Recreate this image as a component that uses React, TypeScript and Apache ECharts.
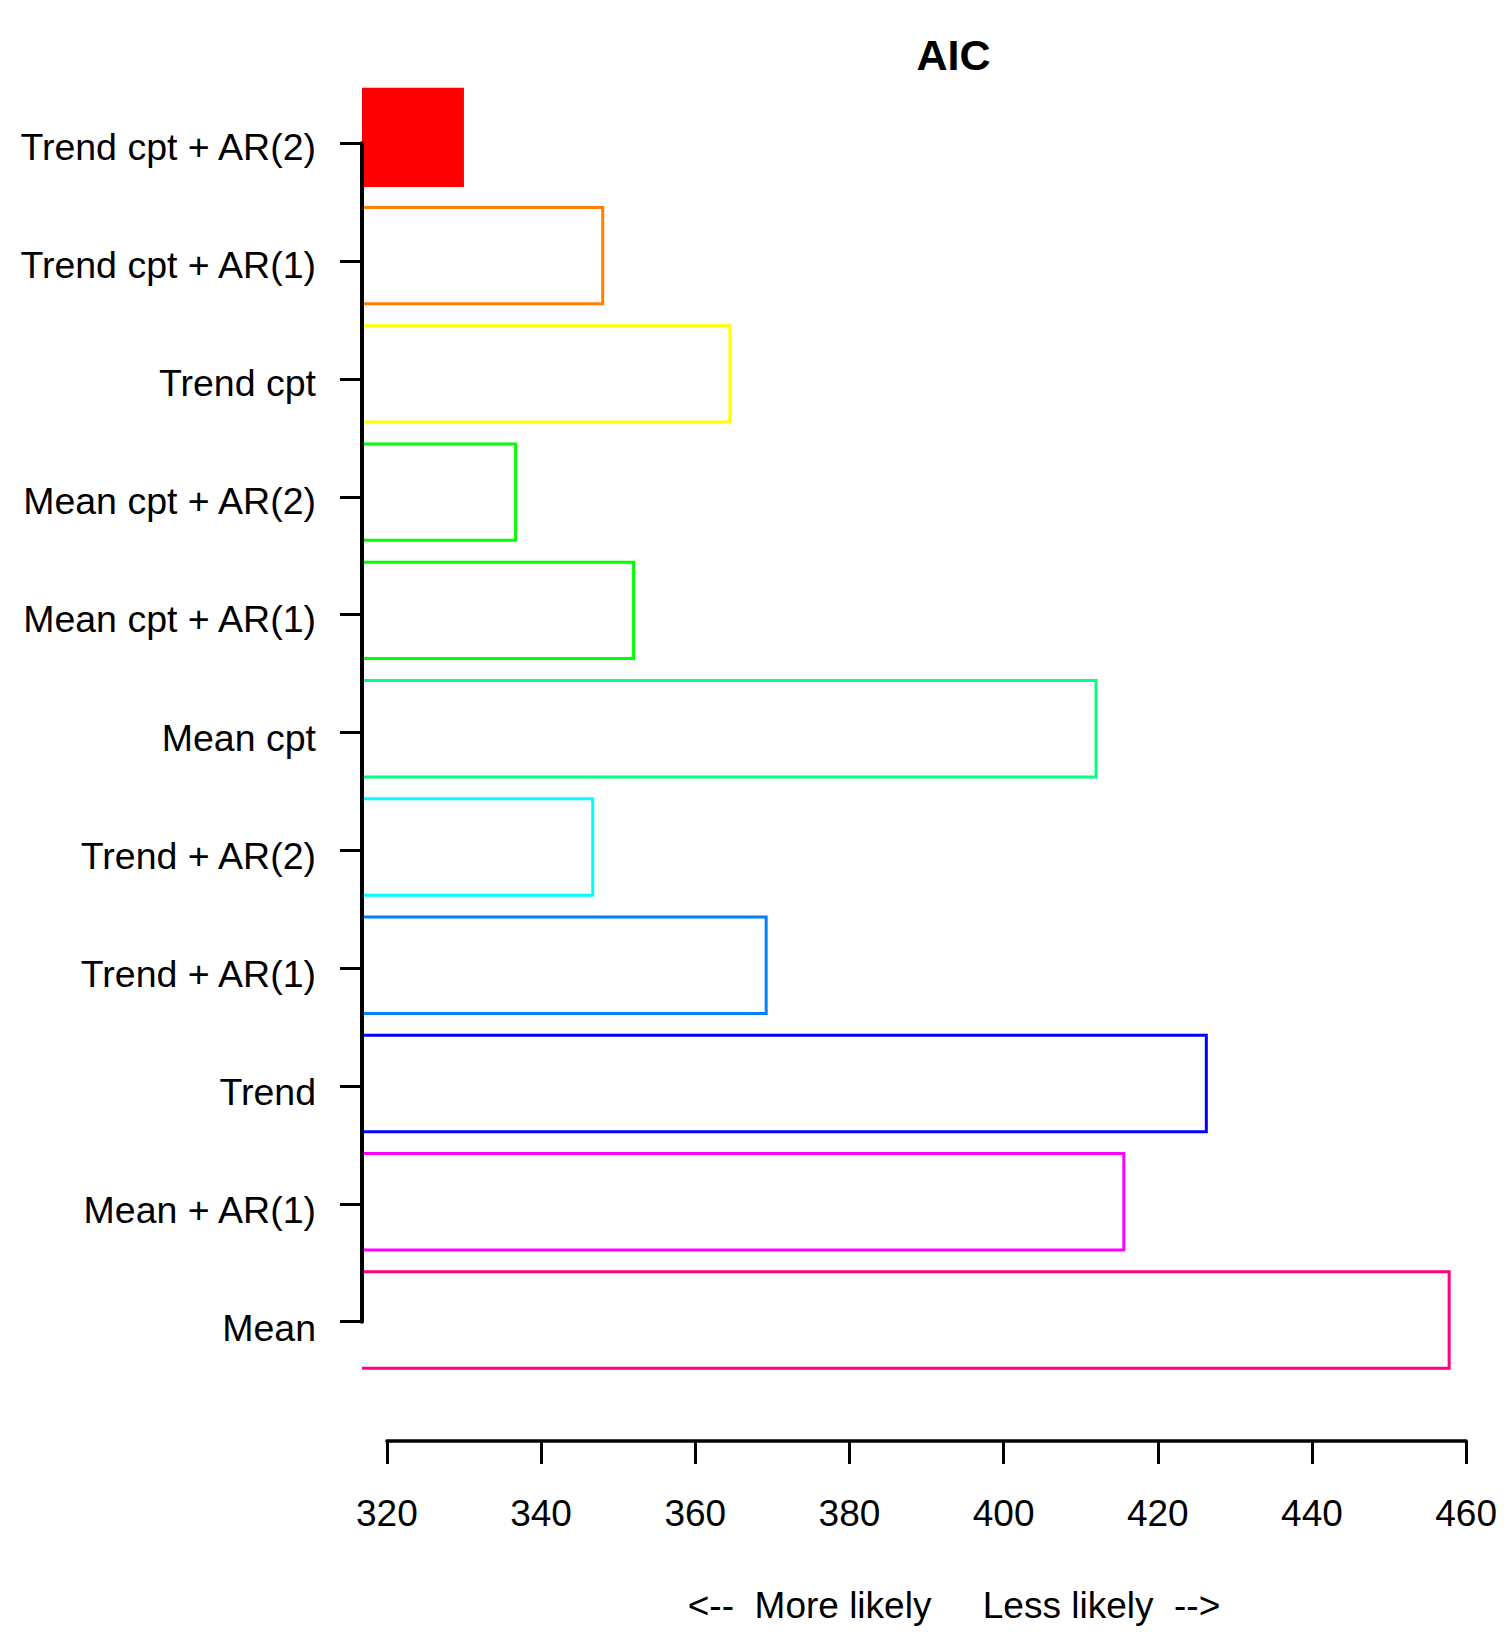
import React, { useEffect, useRef } from "react";
import * as echarts from "echarts";

// ---- data ----
const modelLabels: string[] = [
  "Trend cpt + AR(2)",
  "Trend cpt + AR(1)",
  "Trend cpt",
  "Mean cpt + AR(2)",
  "Mean cpt + AR(1)",
  "Mean cpt",
  "Trend + AR(2)",
  "Trend + AR(1)",
  "Trend",
  "Mean + AR(1)",
  "Mean",
];
const aicValues: number[] = [329.8, 348.0, 364.5, 336.7, 352.0, 412.0, 346.7, 369.2, 426.3, 415.6, 457.8];
const barColors: string[] = [
  "#FF0000", "#FF8000", "#FFFF00", "#00FF00", "#00FF00", "#00FF80",
  "#00FFFF", "#0080FF", "#0000FF", "#FF00FF", "#FF0080",
];
const xTickMin = 320;
const xTickMax = 460;
const xTickStep = 20;
const titleText = "AIC";
const xAxisNote = "<--  More likely     Less likely  -->";

const FONT = "'Liberation Sans', Arial, Helvetica, sans-serif";

export default function App() {
  const ref = useRef<HTMLDivElement>(null);
  useEffect(() => {
    document.body.style.margin = "0";
    const chart = echarts.init(ref.current as HTMLDivElement, null, { renderer: "svg" });
    const minAic = Math.min(...aicValues);

    // pixel geometry
    const xPx320 = 386.9;
    const xPx460 = 1466.1;
    const pxPerUnit = (xPx460 - xPx320) / (xTickMax - xTickMin);
    const plotLeft = 362;
    const barAxisMin = xTickMin - (xPx320 - plotLeft) / pxPerUnit;

    const option: any = {
      animation: false,
      backgroundColor: "#ffffff",
      title: {
        text: titleText,
        left: 948.5,
        top: 28,
        textAlign: "center",
        textStyle: { fontFamily: FONT, fontSize: 43, fontWeight: "bold", color: "#000" },
      },
      grid: [
        { left: plotLeft, top: 78.2, width: xPx460 - plotLeft, height: 1301, containLabel: false },
        { left: plotLeft, top: 143.3, width: 10, height: 1178.4, containLabel: false },
        { left: xPx320, top: 1300, width: xPx460 - xPx320, height: 141, containLabel: false },
        { left: plotLeft, top: 146.9, width: 10, height: 1181.4, containLabel: false },
      ],
      xAxis: [
        { type: "value", gridIndex: 0, min: barAxisMin, max: xTickMax, show: false },
        { type: "value", gridIndex: 1, show: false },
        {
          type: "value",
          gridIndex: 2,
          min: xTickMin,
          max: xTickMax,
          interval: xTickStep,
          position: "bottom",
          axisLine: { show: true, lineStyle: { color: "#000", width: 3.5 } },
          axisTick: { show: true, length: 23, lineStyle: { color: "#000", width: 3 } },
          axisLabel: { fontFamily: FONT, fontSize: 37, color: "#000", margin: 54 },
          splitLine: { show: false },
        },
        { type: "value", gridIndex: 3, show: false },
      ],
      yAxis: [
        { type: "category", gridIndex: 0, data: modelLabels, inverse: true, show: false },
        {
          type: "category",
          gridIndex: 1,
          data: modelLabels,
          inverse: true,
          boundaryGap: false,
          z: 10,
          axisLine: { show: true, lineStyle: { color: "#000", width: 4 } },
          axisTick: { show: true, length: 22, alignWithLabel: true, lineStyle: { color: "#000", width: 3 } },
          axisLabel: { show: false },
          splitLine: { show: false },
        },
        { type: "value", gridIndex: 2, show: false },
        {
          type: "category",
          gridIndex: 3,
          data: modelLabels,
          inverse: true,
          boundaryGap: false,
          axisLine: { show: false },
          axisTick: { show: false },
          axisLabel: { fontFamily: FONT, fontSize: 37.5, color: "#000", margin: 46, interval: 0 },
          splitLine: { show: false },
        },
      ],
      series: [
        {
          type: "custom",
          xAxisIndex: 0,
          yAxisIndex: 0,
          z: 2,
          encode: { x: 0, y: 1 },
          data: aicValues.map((v, i) => [v, i]),
          renderItem: (params: any, api: any) => {
            const val = api.value(0);
            const idx = api.value(1);
            const c = api.coord([val, idx]);
            const x0 = params.coordSys.x;
            const band = api.size([0, 1])[1];
            const h = band * 0.815;
            const top = c[1] - h / 2;
            const bot = c[1] + h / 2;
            const color = barColors[idx];
            const children: any[] = [];
            if (val === minAic) {
              children.push({
                type: "rect",
                shape: { x: x0, y: top, width: c[0] - x0, height: h },
                style: { fill: color },
              });
            }
            children.push({
              type: "polyline",
              shape: { points: [[x0, top], [c[0], top], [c[0], bot], [x0, bot]] },
              style: { stroke: color, lineWidth: 3, fill: "none" },
            });
            return { type: "group", children };
          },
        },
      ],
      graphic: [
        {
          type: "text",
          x: 954,
          y: 1605,
          style: {
            text: xAxisNote,
            fontFamily: FONT,
            fontSize: 37,
            fill: "#000",
            align: "center",
            verticalAlign: "middle",
          },
        },
      ],
    };
    chart.setOption(option);
    return () => chart.dispose();
  }, []);
  return (
    <div
      ref={ref}
      style={{ position: "absolute", left: 0, top: 0, width: 1510, height: 1640, background: "#fff" }}
    />
  );
}
